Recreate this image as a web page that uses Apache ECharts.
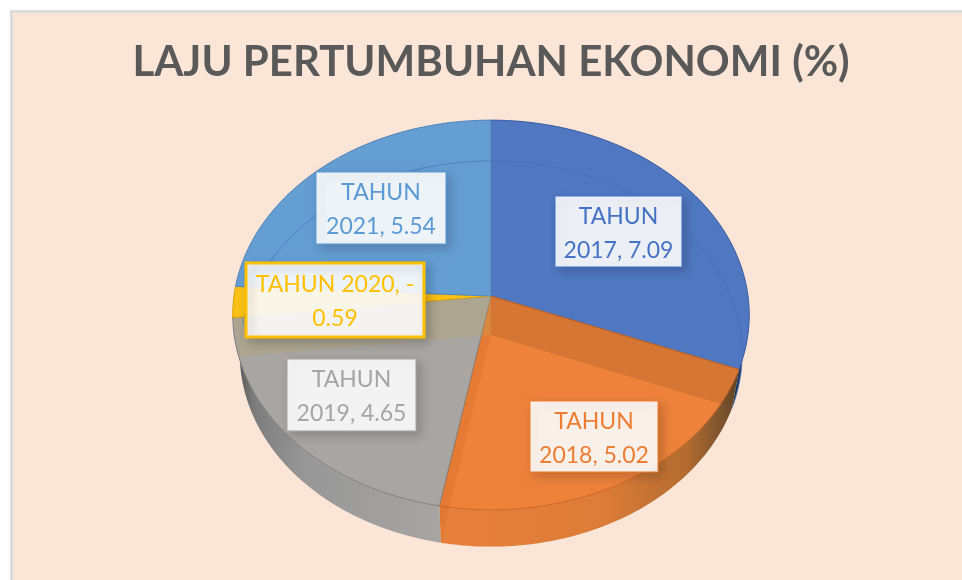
<!DOCTYPE html>
<html>
<head>
<meta charset="utf-8">
<title>Laju Pertumbuhan Ekonomi</title>
<script src="https://cdn.jsdelivr.net/npm/echarts@6/dist/echarts.min.js"></script>
<style>
    html, body { margin: 0; padding: 0; background: #fff; }
    #main { width: 962px; height: 580px; }
</style>
</head>
<body>
<div id="main"></div>
<script>
var categories = ['TAHUN 2017', 'TAHUN 2018', 'TAHUN 2019', 'TAHUN 2020', 'TAHUN 2021'];
var values = [7.09, 5.02, 4.65, -0.59, 5.54];
var labelTexts = ['TAHUN\n2017, 7.09', 'TAHUN\n2018, 5.02', 'TAHUN\n2019, 4.65', 'TAHUN 2020, -\n0.59', 'TAHUN\n2021, 5.54'];
var titleText = 'LAJU PERTUMBUHAN EKONOMI (%)';

var topColors = ['#5078c2', '#ee823b', '#a8a5a3', '#fbc116', '#659ed3'];
var textColors = ['#4472c4', '#ed7d31', '#a5a5a5', '#ffc000', '#5b9bd5'];
var labelBoxes = [[555, 196, 127, 71], [530, 401, 128, 71], [287, 359, 129, 72], [246, 263, 178, 74], [316, 172, 130, 72]];

// slices go clockwise from 12 o'clock, a negative value takes its absolute size
var total = 0;
values.forEach(function (v) { total += Math.abs(v); });
var startAngles = [];
var endAngles = [];
var sum = 0;
values.forEach(function (v) {
    startAngles.push(sum / total * Math.PI * 2);
    sum += Math.abs(v);
    endAngles.push(sum / total * Math.PI * 2);
});

// perspective ellipse of the upper and lower disc
var upper = { cx: 491, cy: 296, c: 257, k: 193 };
var lower = { cx: 491, cy: 335, c: 250, k: 191 };
var tilt = -0.0974;

function project(disc, a) {
    var u = Math.sin(a), v = -Math.cos(a), d = 1 + tilt * v;
    return [disc.cx + disc.c * u / d, disc.cy + disc.k * v / d];
}
function arc(disc, a0, a1) {
    var pts = [];
    var n = Math.max(2, Math.ceil((a1 - a0) / 0.02));
    for (var i = 0; i <= n; i++) {
        pts.push(project(disc, a0 + (a1 - a0) * i / n));
    }
    return pts;
}
function grad(stops) {
    return new echarts.graphic.LinearGradient(0, 0, 1, 0, stops.map(function (s) {
        return { offset: s[0], color: s[1] };
    }));
}

var wallFills = [
    '#1f3864',
    grad([[0, '#e8803a'], [0.55, '#dc7c38'], [0.82, '#b56c30'], [1, '#63482c']]),
    grad([[0, '#4a4a4a'], [0.1, '#7c7c7c'], [0.35, '#989898'], [1, '#a7a5a3']]),
    '#bf9000',
    '#2e75b6'
];
var rimColors = ['#3f62a6', '#c9651f', '#85837f', '#d9a400', '#5688bb'];
// wall behind the top, seen through it: [angle index, colour, opacity]
var seenWalls = [
    [0, '#5a3a10', 0.16],
    [1, '#c85f1a', 0.22],
    [2, '#b8a560', 0.28]
];

function renderWall(params) {
    var i = params.dataIndex;
    var pts = arc(upper, startAngles[i], endAngles[i]).concat(arc(lower, startAngles[i], endAngles[i]).reverse());
    return { type: 'polygon', shape: { points: pts }, style: { fill: wallFills[i] } };
}
function renderTop(params) {
    var i = params.dataIndex;
    var pts = [[upper.cx, upper.cy]].concat(arc(upper, startAngles[i], endAngles[i]));
    return { type: 'polygon', shape: { points: pts }, style: { fill: topColors[i], stroke: rimColors[i], lineWidth: 1 } };
}
function renderSeen(params) {
    var w = seenWalls[params.dataIndex];
    var a = endAngles[w[0]];
    var pts = [[upper.cx, upper.cy], project(upper, a), project(lower, a), [lower.cx, lower.cy]];
    return { type: 'polygon', shape: { points: pts }, style: { fill: w[1], opacity: w[2] } };
}
function renderLowerRim(params) {
    var i = params.dataIndex;
    return {
        type: 'polyline',
        shape: { points: arc(lower, startAngles[i], endAngles[i]) },
        style: { stroke: i === 0 || i === 4 ? '#3f6fb8' : 'rgba(0,0,0,0.03)', lineWidth: 1, opacity: 0.6, fill: null }
    };
}
function renderLabel(params) {
    var i = params.dataIndex, b = labelBoxes[i];
    return {
        type: 'group',
        children: [
            {
                type: 'rect',
                shape: { x: b[0], y: b[1], width: b[2], height: b[3] },
                style: {
                    fill: 'rgba(255,255,255,0.9)',
                    stroke: textColors[i],
                    lineWidth: i === 3 ? 3 : 1.5,
                    strokeOpacity: i === 3 ? 1 : 0.7,
                    shadowBlur: 10,
                    shadowOffsetX: 4,
                    shadowOffsetY: 4,
                    shadowColor: 'rgba(0,0,0,0.2)'
                }
            },
            {
                type: 'text',
                style: {
                    x: b[0] + b[2] / 2,
                    y: b[1] + b[3] / 2 + 2,
                    text: labelTexts[i],
                    fill: textColors[i],
                    font: '23px Lato',
                    lineHeight: 34,
                    align: 'center',
                    verticalAlign: 'middle'
                }
            }
        ]
    };
}

function layer(name, render, count, z) {
    var list = [];
    for (var i = 0; i < count; i++) { list.push(i < values.length ? values[i] : 0); }
    return {
        type: 'custom',
        name: name,
        coordinateSystem: 'none',
        silent: true,
        animation: false,
        z: z,
        renderItem: render,
        data: list
    };
}

var chart = echarts.init(document.getElementById('main'));
chart.setOption({
    animation: false,
    title: {
        text: titleText,
        left: 486,
        top: 36,
        textAlign: 'center',
        textStyle: { fontFamily: 'Lato', fontWeight: 'bold', fontSize: 42, color: '#595959' }
    },
    graphic: [{
        type: 'rect',
        z: -1,
        shape: { x: 11.5, y: 11.5, width: 970, height: 590 },
        style: { fill: '#fbe5d6', stroke: '#dcdcdc', lineWidth: 3 }
    }],
    series: [
        layer('wall', renderWall, values.length, 2),
        layer('top', renderTop, values.length, 3),
        layer('rim', renderLowerRim, values.length, 4),
        layer('seen', renderSeen, seenWalls.length, 5),
        layer('label', renderLabel, values.length, 6)
    ]
});
</script>
</body>
</html>
